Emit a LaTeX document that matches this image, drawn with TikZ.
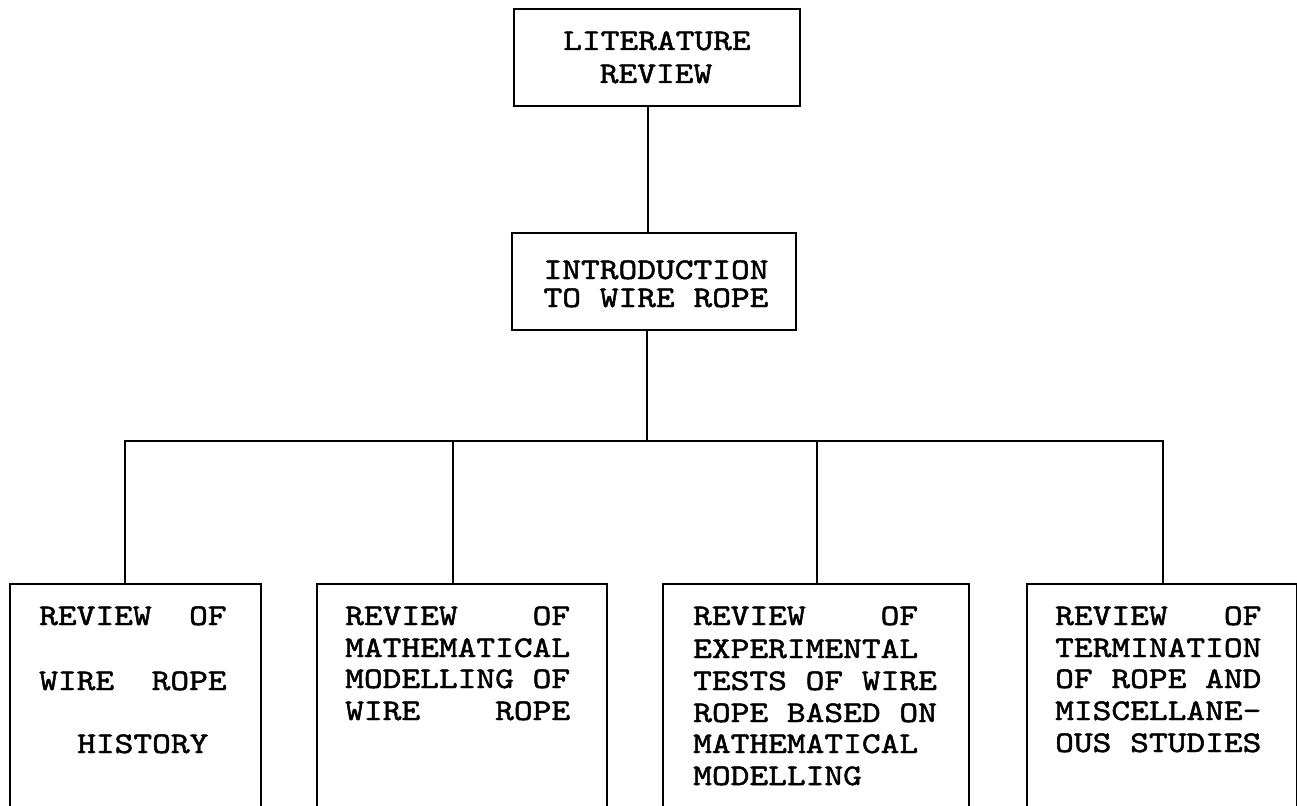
\documentclass[tikz,border=0pt]{standalone}
\usepackage{fontspec}
\newfontfamily\tw{lmmono10-regular.otf}[FakeStretch=1.19, FakeBold=1.6]
\newcommand\gp{\hspace*{18.75pt}}
\tikzset{
  box/.style={draw, line width=2.6pt, rectangle, inner sep=0pt, minimum height=97pt},
  lowbox/.style={draw, line width=2.6pt, rectangle, inner sep=0pt, minimum height=320pt},
  txt/.style={inner sep=0pt, anchor=base west, font=\tw\fontsize{30}{31}\selectfont},
  ctxt/.style={txt, anchor=base},
  conn/.style={line width=2.6pt}
}
\begin{document}
\begin{tikzpicture}[x=1pt,y=-1pt]
\clip (0,0) rectangle (1297,805);
\fill[white] (0,0) rectangle (1297,805);
% boxes
\node[box, minimum width=286pt] (lit) at (657,57.5) {};
\node[box, minimum width=284pt] (intro) at (654,281.5) {};
\node[lowbox, minimum width=251pt] (b1) at (135.5,744) {};
\node[lowbox, minimum width=290pt] (b2) at (462,744) {};
\node[lowbox, minimum width=306pt] (b3) at (816,744) {};
\node[lowbox, minimum width=270pt] (b4) at (1162,744) {};
\coordinate (bar) at (0,441);
% texts
\node[ctxt] (t1) at (657,50) {LITERATURE};
\node[ctxt] (t2) at (656,83) {REVIEW};
\node[ctxt] (t3) at (656,279) {INTRODUCTION};
\node[ctxt] (t4) at (656,307) {TO\gp WIRE\gp ROPE};
\node[txt] (a1) at (39,625) {REVIEW\gp\gp OF};
\node[txt] (a2) at (39,690) {WIRE\gp\gp ROPE};
\node[txt] (a3) at (77,753) {HISTORY};
\node[txt] (c1) at (345,625) {REVIEW\gp\gp\gp\gp OF};
\node[txt] (c2) at (345,657) {MATHEMATICAL};
\node[txt] (c3) at (345,688) {MODELLING\gp OF};
\node[txt] (c4) at (345,720) {WIRE\gp\gp\gp\gp ROPE};
\node[txt] (d1) at (693,625) {REVIEW\gp\gp\gp\gp OF};
\node[txt] (d2) at (693,658) {EXPERIMENTAL};
\node[txt] (d3) at (693,690) {TESTS\gp OF\gp WIRE};
\node[txt] (d4) at (693,722) {ROPE\gp BASED\gp ON};
\node[txt] (d5) at (693,753) {MATHEMATICAL};
\node[txt] (d6) at (693,785) {MODELLING};
\node[txt] (e1) at (1055,625) {REVIEW\gp\gp\gp OF};
\node[txt] (e2) at (1055,657) {TERMINATION};
\node[txt] (e3) at (1055,688) {OF\gp ROPE\gp AND};
\node[txt] (e4) at (1055,720) {MISCELLANE-};
\node[txt] (e5) at (1055,752) {OUS\gp STUDIES};
% connectors
\draw[conn] ([xshift=-9pt]lit.south) -- ([xshift=-6pt]intro.north);
\draw[conn] ([xshift=-7pt]intro.south) -- ([xshift=-7pt]intro.south |- bar);
\draw[conn] ([xshift=-10.5pt]b1.north) -- ([xshift=-10.5pt]b1.north |- bar) -- ([xshift=1pt]b4.north |- bar) -- ([xshift=1pt]b4.north);
\draw[conn] ([xshift=-9pt]b2.north) -- ([xshift=-9pt]b2.north |- bar);
\draw[conn] ([xshift=1pt]b3.north) -- ([xshift=1pt]b3.north |- bar);
\end{tikzpicture}
\end{document}
